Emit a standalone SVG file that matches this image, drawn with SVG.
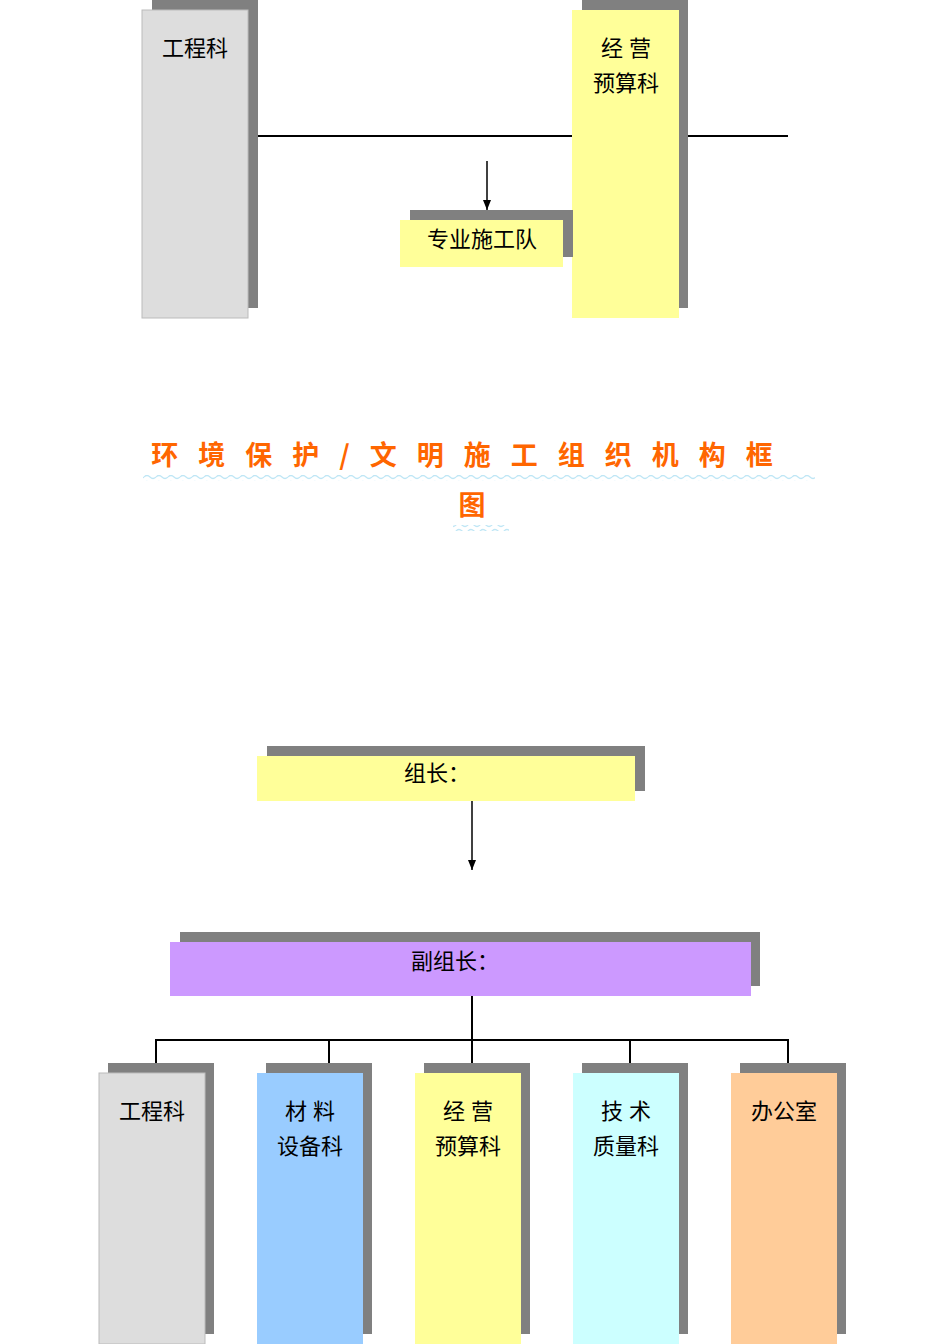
<svg xmlns="http://www.w3.org/2000/svg" width="950" height="1344" viewBox="0 0 950 1344">
<defs>
<style>
.sh{fill:#808080}
.t{font-family:"Liberation Sans","Noto Sans CJK SC",sans-serif;font-size:22px;fill:#000;text-anchor:middle}
.ln{stroke:#000;stroke-width:2;fill:none}
.wave{stroke:#bfe6f5;stroke-width:1.2;fill:none}
.title{font-family:"Noto Sans CJK SC",sans-serif;font-weight:bold;font-size:27px;fill:#ff6600;text-anchor:middle}
</style>
<marker id="ar" markerWidth="8" markerHeight="10" refX="4" refY="10" orient="auto" markerUnits="userSpaceOnUse" viewBox="0 0 8 10"><path d="M0,0 L8,0 L4,10 Z" fill="#000" transform="rotate(-90 4 5) translate(0,0)"/></marker>
<marker id="ad" markerWidth="8" markerHeight="10" refX="4" refY="10" markerUnits="userSpaceOnUse" viewBox="0 0 8 10"><path d="M0,0 L8,0 L4,10 Z" fill="#000"/></marker>
<pattern id="wv" width="12" height="6" patternUnits="userSpaceOnUse"><path d="M0,3 Q3,0 6,3 T12,3" class="wave"/></pattern>
</defs>
<rect width="950" height="1344" fill="#fff"/>
<g id="connectors">
<line class="ln" x1="258" y1="136" x2="572" y2="136"/>
<line class="ln" x1="688" y1="136" x2="788" y2="136"/>
<line stroke="#000" stroke-width="1.5" x1="487" y1="161" x2="487" y2="210" marker-end="url(#ad)"/>
<line stroke="#000" stroke-width="1.5" x1="472" y1="801" x2="472" y2="870" marker-end="url(#ad)"/>
<line class="ln" x1="472" y1="996" x2="472" y2="1073"/>
<line class="ln" x1="156" y1="1040" x2="788" y2="1040"/>
<line class="ln" x1="156" y1="1039" x2="156" y2="1063"/>
<line class="ln" x1="329" y1="1039" x2="329" y2="1063"/>
<line class="ln" x1="630" y1="1039" x2="630" y2="1063"/>
<line class="ln" x1="788" y1="1039" x2="788" y2="1063"/>
</g>
<g id="top-gongcheng"><rect class="sh" x="152" y="0" width="106" height="308"/><rect x="142" y="10" width="106" height="308" fill="#dddddd" stroke="#bbbbbb"/><text class="t" x="195" y="56">工程科</text></g>
<g id="top-jingying"><rect class="sh" x="582" y="0" width="106" height="308"/><rect x="572" y="10" width="107" height="308" fill="#ffff99"/><text class="t" x="626" y="56">经 营</text><text class="t" x="626" y="91">预算科</text></g>
<g id="top-zhuanye"><rect class="sh" x="410" y="210" width="163" height="47"/><rect x="400" y="220" width="163" height="47" fill="#ffff99"/><text class="t" x="482" y="247">专业施工队</text></g>
<g id="title">
<text class="title" x="472" y="465" letter-spacing="20">环境保护/文明施工组织机构框</text>
<rect x="143" y="475" width="672" height="6" fill="url(#wv)"/>
<text class="title" x="472" y="515">图</text>
<rect x="453" y="525" width="56" height="6" fill="url(#wv)"/>
</g>
<g id="zuzhang"><rect class="sh" x="267" y="746" width="378" height="45"/><rect x="257" y="756" width="378" height="45" fill="#ffff99"/><text class="t" x="437" y="781">组长：</text></g>
<g id="fuzuzhang"><rect class="sh" x="180" y="932" width="580" height="54"/><rect x="170" y="942" width="581" height="54" fill="#cc99ff"/><text class="t" x="455" y="969">副组长：</text></g>
<g id="gongcheng"><rect class="sh" x="108" y="1063" width="106" height="271"/><rect x="99" y="1073" width="106" height="271" fill="#dddddd" stroke="#bbbbbb"/><text class="t" x="152" y="1119">工程科</text></g>
<g id="cailiao"><rect class="sh" x="266" y="1063" width="106" height="271"/><rect x="257" y="1073" width="106" height="271" fill="#99ccff"/><text class="t" x="310" y="1119">材 料</text><text class="t" x="310" y="1154">设备科</text></g>
<g id="jingying"><rect class="sh" x="424" y="1063" width="106" height="271"/><rect x="415" y="1073" width="106" height="271" fill="#ffff99"/><text class="t" x="468" y="1119">经 营</text><text class="t" x="468" y="1154">预算科</text></g>
<g id="jishu"><rect class="sh" x="582" y="1063" width="106" height="271"/><rect x="573" y="1073" width="106" height="271" fill="#ccffff"/><text class="t" x="626" y="1119">技 术</text><text class="t" x="626" y="1154">质量科</text></g>
<g id="bangongshi"><rect class="sh" x="740" y="1063" width="106" height="271"/><rect x="731" y="1073" width="106" height="271" fill="#ffcc99"/><text class="t" x="784" y="1119">办公室</text></g>
</svg>
